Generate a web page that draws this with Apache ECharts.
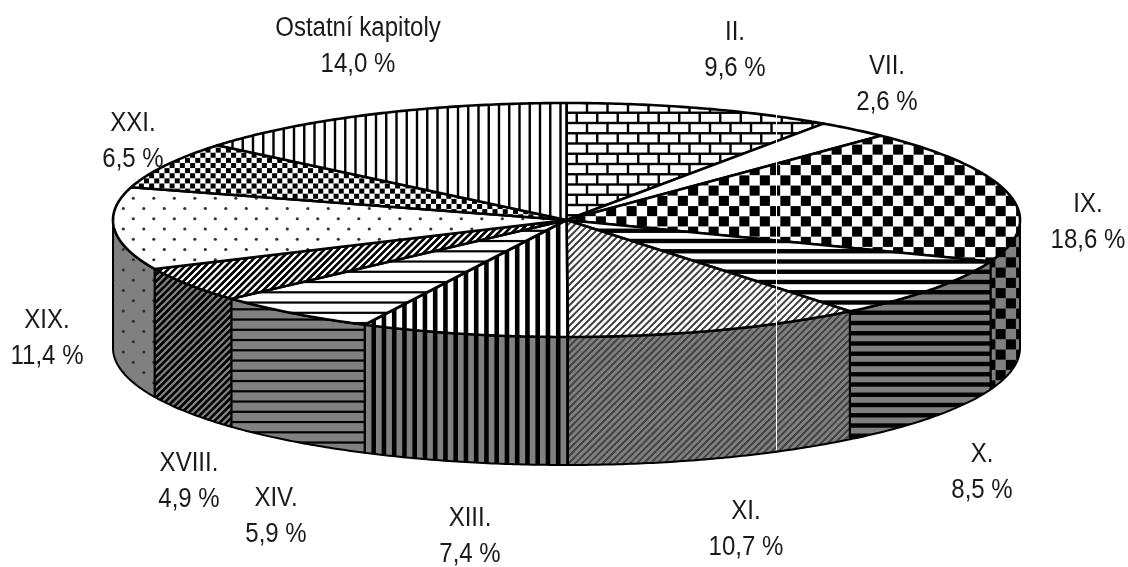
<!DOCTYPE html>
<html><head><meta charset="utf-8">
<style>html,body{margin:0;padding:0;background:#fff}#c{width:1128px;height:567px}</style>
<script src="https://cdn.jsdelivr.net/npm/echarts@6/dist/echarts.min.js"></script>
</head><body><div id="c"></div>
<script>
const categories = ['II.','VII.','IX.','X.','XI.','XIII.','XIV.','XVIII.','XIX.','XXI.','Ostatní kapitoly'];
const shares = [9.6,2.6,18.6,8.5,10.7,7.4,5.9,4.9,11.4,6.5,14.0];
const patternNames = ['brick','plain','check','hbar','fine','vbar','hthin','diag','dots','small','vthin'];
// layout only: centre of each two-line label, in pixels
const labelAnchors = [[735,50],[887,84],[1088,222],[982,472],[746,529],[470,536],[276,516],[189,481],[47,338],[133,141],[358,46]];
const depth = 128/117;          // rim height in y-axis units
const FONT = '"Liberation Sans",sans-serif';

const P = 10.25, T = 41;
const draws = {
  plain(){},
  brick(g){ for(let r=0;r<4;r++){ const y=r*P; g.fillRect(0,y-1.2,T,2.4);
      for(let k=0;k<2;k++){ g.fillRect((r%2?2.75:13)+k*20.5-1.2,y,2.4,P);} } },
  check(g){ for(let r=0;r<4;r++) for(let k=0;k<2;k++){ g.fillRect((r%2?1.25:11.5)+k*20.5+.1,1+r*P+.1,P-.2,P-.2);} },
  hbar(g){ for(let r=0;r<4;r++) g.fillRect(0,5.25+r*P-2.2,T,4.4); },
  hthin(g){ for(let r=0;r<4;r++) g.fillRect(0,5.3+r*P-1.1,T,2.2); },
  vbar(g){ for(let r=0;r<4;r++) g.fillRect(4.7+r*P-2.3,0,4.6,T); },
  vthin(g){ for(let r=0;r<4;r++) g.fillRect(7+r*P-1.2,0,2.4,T); },
  diag(g){ g.lineWidth=2.2; for(let r=-6;r<12;r++){ const x=r*T/6; g.beginPath(); g.moveTo(x,T); g.lineTo(x+T,0); g.stroke(); } },
  fine(g){ g.lineWidth=1.6; g.strokeStyle='#444'; for(let r=-6;r<12;r++){ const x=r*T/6; g.beginPath(); g.moveTo(x,T); g.lineTo(x+T,0); g.stroke(); } },
  dots(g){ g.fillStyle='#333'; for(let r=0;r<4;r++) for(let k=0;k<2;k++){ g.beginPath(); g.arc((r%2?10.3:0.3)+k*20.5,3.5+r*P,1.6,0,7); g.fill(); } },
  small(g){ for(let r=0;r<8;r++) for(let k=0;k<4;k++){ g.fillRect((r%2?3:8.1)+k*P-2.5,1.5+r*P/2-2.5,5,5);} }
};
function tile(name,bg,oy){
  const c=document.createElement('canvas'); c.width=T; c.height=T;
  const g=c.getContext('2d'); g.fillStyle=bg; g.fillRect(0,0,T,T);
  for(const dx of [-T,0,T]) for(const dy of [-T,0,T]){
    g.save(); g.translate(dx,dy+(oy||0)); g.fillStyle='#000'; g.strokeStyle='#000'; draws[name](g); g.restore();
  }
  return {image:c,repeat:'repeat'};
}
const topFill = patternNames.map(n=>tile(n,'#fff'));
const sideFill = patternNames.map(n=>tile(n,'#808080',n==='hthin'?-3.5:0));

const starts=[]; shares.reduce((s,v,i)=>(starts[i]=s,s+v),0);
const total = shares.reduce((a,b)=>a+b,0);
const fmt = v => v.toFixed(1).replace('.',',')+' %';

function renderItem(params,api){
  const i=params.dataIndex, v=api.value(1);
  const a0=starts[i]/total*2*Math.PI, a1=(starts[i]+v)/total*2*Math.PI;
  const pt=(a,d)=>api.coord([Math.sin(a),Math.cos(a)-(d||0)]);
  const arc=(s,e,d)=>{const n=Math.max(2,Math.ceil((e-s)/0.01)),o=[];for(let k=0;k<=n;k++)o.push(pt(s+(e-s)*k/n,d));return o;};
  const kids=[];
  const sa=Math.max(a0,Math.PI/2), sb=Math.min(a1,Math.PI*1.5);
  if(sb>sa){
    kids.push({type:'polygon',z2:1,shape:{points:arc(sa,sb,0).concat(arc(sa,sb,depth).reverse())},
      style:{fill:sideFill[i],stroke:'#000',lineWidth:2,lineJoin:'round'}});
  }
  kids.push({type:'polygon',z2:2,shape:{points:[api.coord([0,0])].concat(arc(a0,a1,0))},
    style:{fill:topFill[i],stroke:'#000',lineWidth:2.6,lineJoin:'round'}});
  const [lx,ly]=labelAnchors[i];
  kids.push({type:'text',z2:5,x:lx,y:ly+1,scaleX:0.89,style:{text:categories[i]+'\n'+fmt(v),font:'27px '+FONT,
    fill:'#1a1a1a',align:'center',verticalAlign:'middle',lineHeight:36}});
  return {type:'group',children:kids};
}

const chart=echarts.init(document.getElementById('c'),null,{renderer:'canvas',width:1128,height:567});
chart.setOption({
  animation:false,backgroundColor:'#fff',
  grid:{left:113,top:103,width:907,height:234},
  xAxis:{type:'value',min:-1,max:1,show:false},
  yAxis:{type:'value',min:-1,max:1,show:false},
  series:[{type:'custom',clip:false,renderItem,data:shares.map((v,i)=>[i,v])}],
  graphic:[{type:'line',z:100,shape:{x1:776.5,y1:115,x2:776.5,y2:450},style:{stroke:'#fff',lineWidth:1}}]
});
</script></body></html>
